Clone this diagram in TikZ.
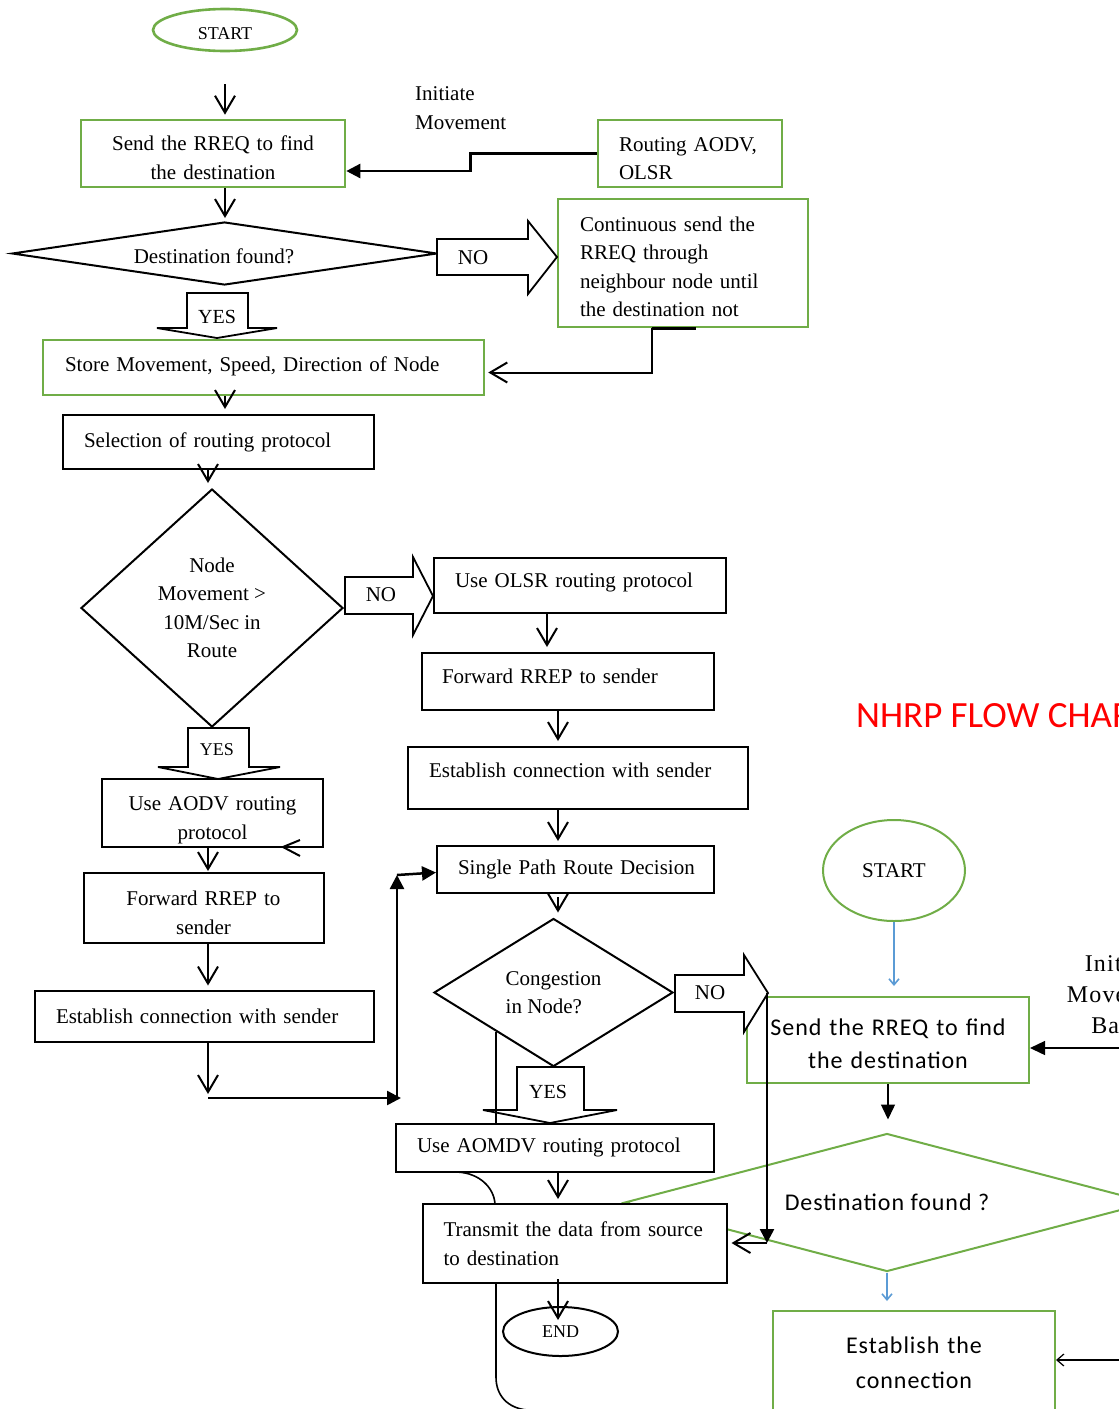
\documentclass[tikz,border=0pt]{standalone}
\usepackage{fontspec}
\setmainfont{Liberation Serif}
\newfontfamily\sansf[LetterSpace=4]{Carlito}
\newfontfamily\titlef{Carlito}
\newfontfamily\spserif[LetterSpace=5]{Liberation Serif}
\usetikzlibrary{shapes.geometric,arrows.meta}
\definecolor{grn}{HTML}{70AD47}
\definecolor{blu}{HTML}{5B9BD5}
\definecolor{nred}{HTML}{FF0000}
\begin{document}
\begin{tikzpicture}[x=1pt,y=-1pt,
  every node/.style={font=\fontsize{21}{28.5}\selectfont},
  gbox/.style={rectangle, draw=grn, line width=2.6pt, fill=white, inner ysep=0pt},
  bbox/.style={rectangle, draw=black, line width=2pt, fill=white, inner ysep=0pt},
  lbl/.style={inner sep=0pt},
  blk/.style={draw=black, line width=1.8pt, fill=white, line join=miter},
  oarr/.style={line width=2pt, -{Straight Barb[length=17pt,width=20pt]}},
  farr/.style={line width=2.5pt, -{Triangle[length=14pt,width=14pt]}},
  tarr/.style={line width=1.4pt, -{Triangle[length=15pt,width=14pt]}},
  harr/.style={line width=1.2pt, -{Straight Barb[length=7pt,width=12pt]}},
  barr/.style={draw=blu, line width=1.6pt, -{Straight Barb[length=6pt,width=10pt]}},
  sline/.style={line width=1.6pt},
  sanstxt/.style={font=\sansf\fontsize{24}{33}\selectfont},
]
\useasboundingbox (0,0) rectangle (1119,1409);
\clip (0,0) rectangle (1119,1409);

% ---------- right-hand chart (behind) ----------
\node[lbl, anchor=west, text=nred, font=\titlef\fontsize{37}{40}\selectfont] (title) at (856,716) {NHRP FLOW CHART};
\node[ellipse, draw=grn, line width=2pt, minimum width=142pt, minimum height=101pt, inner sep=0pt] (start2) at (894,870.5) {START};
\node[gbox, line width=2pt, minimum width=282pt, minimum height=86pt, inner xsep=4pt, text width=260pt, text height=25pt, align=center, sanstxt] (rreq2) at (888,1040) {Send the RREQ to find\\the destination};
\node[lbl, align=center, font=\spserif\fontsize{24}{31}\selectfont] (initm2) at (1123,995) {Initiate\\Movement\\Based};
\node[diamond, draw=grn, line width=2pt, minimum width=525pt, minimum height=138pt, inner sep=0pt, aspect=3.8, sanstxt] (dest2) at (887,1202.5) {Destination found ?};
\node[gbox, line width=2pt, minimum width=282pt, minimum height=104pt, inner xsep=4pt, text width=260pt, align=center, font=\sansf\fontsize{24}{35}\selectfont] (est3) at (914,1363) {Establish the\\connection};

% ---------- main chart ----------
\node[ellipse, draw=grn, line width=2.6pt, minimum width=144pt, minimum height=42pt, inner sep=0pt, text height=19pt, font=\fontsize{18}{20}\selectfont] (start1) at (225,30) {START};
\node[gbox, minimum width=264pt, minimum height=67pt, text width=240pt, text height=23.5pt, align=center] (rreq1) at (213,153.5) {Send the RREQ to find\\the destination};
\node[lbl, anchor=west, align=left] (initm) at (415,108) {Initiate\\Movement};
\node[gbox, minimum width=184pt, minimum height=67pt, inner xsep=21pt, text width=142pt, text height=24.5pt, align=left] (routing) at (690,153.5) {Routing AODV,\\OLSR};
\node[diamond, draw, line width=2pt, fill=white, minimum width=425pt, minimum height=63pt, inner sep=0pt] (dest1) at (224.5,253.5) {};
\node[lbl] (dest1t) at (214,256) {Destination found?};
\node[gbox, minimum width=250pt, minimum height=128pt, inner xsep=22pt, text width=206pt, text height=22.5pt, align=left] (cont) at (683,263) {Continuous send the\\RREQ through\\neighbour node until\\the destination not};
\node[gbox, minimum width=441pt, minimum height=55pt, inner xsep=22pt, text width=397pt, align=left, text depth=7pt] (store) at (263.5,367.5) {\mbox{Store Movement, Speed, Direction of Node}};
\node[bbox, minimum width=311pt, minimum height=54pt, inner xsep=21pt, text width=269pt, align=left] (select) at (218.5,442) {\mbox{Selection of routing protocol}};
\node[diamond, draw, line width=2pt, fill=white, minimum width=262pt, minimum height=238pt, inner sep=0pt, align=center] (node2) at (212,608) {Node\\Movement >\\10M/Sec in\\Route};
\node[bbox, minimum width=292pt, minimum height=55pt, inner xsep=21pt, text width=250pt, align=left, text depth=10pt] (olsr) at (580,585.5) {\mbox{Use OLSR routing protocol}};
\node[bbox, minimum width=292pt, minimum height=57pt, inner xsep=20pt, text width=252pt, align=left, text depth=10pt] (fwd2) at (568,681.5) {\mbox{Forward RREP to sender}};
\node[bbox, minimum width=340pt, minimum height=62pt, inner xsep=21pt, text width=298pt, align=left, text depth=15pt] (est2) at (578,778) {\mbox{Establish connection with sender}};
\node[bbox, minimum width=277pt, minimum height=47pt, inner xsep=21pt, text width=235pt, align=left] (single) at (575.5,869.5) {\mbox{Single Path Route Decision}};
\node[diamond, draw, line width=2pt, fill=white, minimum width=239pt, minimum height=148pt, inner sep=0pt, aspect=1.6, align=left] (cong) at (553.5,992.5) {Congestion\\in Node?};
\node[bbox, minimum width=318pt, minimum height=48pt, inner xsep=21pt, text width=276pt, align=left] (aomdv) at (555,1147.5) {\mbox{Use AOMDV routing protocol}};
\node[bbox, minimum width=304pt, minimum height=79pt, inner xsep=21pt, text width=262pt, align=left] (transmit) at (574.5,1243.5) {Transmit the data from source\\to destination};
\node[ellipse, draw, line width=2pt, fill=white, minimum width=115pt, minimum height=49pt, inner sep=0pt, font=\fontsize{18}{20}\selectfont] (endn) at (560.5,1331.5) {END};
\node[bbox, minimum width=221pt, minimum height=68pt, text width=200pt, text height=28pt, align=center] (aodv) at (212.5,813) {Use AODV routing\\protocol};
\node[bbox, minimum width=240pt, minimum height=70pt, text width=200pt, text height=24.5pt, align=center] (fwd1) at (203.5,908) {Forward RREP to\\sender};
\node[bbox, minimum width=339pt, minimum height=51pt, inner xsep=21pt, text width=297pt, align=left] (est1) at (204.5,1016) {\mbox{Establish connection with sender}};

% ---------- block arrows (YES / NO) ----------
\draw[blk] (437,239)--(528,239)--(528,221)--(557,257)--(528,294)--(528,275)--(437,275)--cycle;
\node[lbl] (no1) at (473,258) {NO};
\draw[blk] (187,293)--(248,293)--(248,328)--(277,328)--(217,338)--(157,328)--(187,328)--cycle;
\node[lbl, font=\fontsize{20}{24}\selectfont] (yes1) at (217,317) {YES};
\draw[blk] (345,577)--(413,577)--(413,557)--(433,596)--(413,635)--(413,614)--(345,614)--cycle;
\node[lbl] (no2) at (381,595) {NO};
\draw[blk] (188,728)--(249,728)--(249,767)--(280,767)--(218,779)--(158,767)--(188,767)--cycle;
\node[lbl, font=\fontsize{18}{22}\selectfont] (yes2) at (217,750) {YES};
\draw[blk] (675,975)--(744,975)--(744,955)--(768,993)--(744,1032)--(744,1012)--(675,1012)--cycle;
\node[lbl] (no3) at (710,993) {NO};
\draw[blk] (517,1067)--(584,1067)--(584,1110)--(617,1110)--(550,1123)--(483,1110)--(517,1110)--cycle;
\node[lbl, font=\fontsize{20}{24}\selectfont] (yes3) at (548,1092) {YES};

% ---------- helper coordinates ----------
\coordinate (X208) at (208,0);
\coordinate (X225) at (225,0);
\coordinate (X547) at (547,0);
\coordinate (X558) at (558,0);
\coordinate (X888) at (888,0);
\coordinate (j1) at (208,1098);
\coordinate (j2) at (401,1098);
\coordinate (j2b) at (397,1098);
\coordinate (j3) at (397,875);
\coordinate (k1) at (767,993);
\coordinate (k2) at (767,1243);
\coordinate (rin1) at (1125,1048);
\coordinate (rin2) at (1125,1360);

% ---------- connectors ----------
\draw[oarr] ([yshift=-32pt]start1.south -| X225) -- ([yshift=4pt]rreq1.north -| X225);
\draw[farr] (routing.west) -- ++(-126,0) |- ([yshift=-17.5pt]rreq1.east);
\draw[oarr] (rreq1.south -| X225) -- ([yshift=3pt]dest1.north -| X225);
\draw[oarr] ([xshift=-31pt]cont.south) |- ([yshift=-5pt,xshift=3pt]store.east);
\draw[line width=2.6pt] ([xshift=-31pt]cont.south) -- ([xshift=13pt]cont.south);
\draw[oarr] (store.south -| X225) -- ([yshift=5pt]select.north -| X225);
\draw[oarr] (select.south -| X208) -- ([yshift=5pt]node2.north -| X208);
\draw[oarr] (olsr.south -| X547) -- ([yshift=5pt]fwd2.north -| X547);
\draw[oarr] (fwd2.south -| X558) -- ([yshift=5pt]est2.north -| X558);
\draw[oarr] (est2.south -| X558) -- ([yshift=4pt]single.north -| X558);
\draw[oarr] ([yshift=-3pt]single.south -| X558) -- ([yshift=5pt]cong.north -| X558);
\draw[oarr] (aomdv.south -| X558) -- ([yshift=4pt]transmit.north -| X558);
\draw[oarr] ([yshift=5pt]transmit.south -| X558) -- ([yshift=-14pt]endn.north -| X558);
\draw[oarr] (aodv.south -| X208) -- ([yshift=1pt]fwd1.north -| X208);
\draw[oarr] (fwd1.south -| X208) -- ([yshift=4pt]est1.north -| X208);
\draw[oarr] (est1.south -| X208) -- ([yshift=4pt]j1);
\draw[farr] (j1) -- (j2);
\draw[farr] (j2b) -- (j3);
\draw[farr] (j3) -- ([yshift=-3pt]single.west);
\draw[farr] (k1) -- (k2);
\draw[oarr] (k2) -- ([xshift=4pt]transmit.east |- k2);
\draw[line width=2pt] (300,840) -- (283,847) -- (300,856);
\draw[sline] (496,1032) -- (496,1123);
\draw[sline] (457,1172) .. controls (480,1173) and (494,1188) .. (495,1204);
\draw[sline] (496,1283) -- (496,1377) .. controls (496,1396) and (508,1408) .. (527,1410);

% right-hand connectors
\draw[barr] (start2.south) -- ([yshift=10pt]rreq2.north -| start2.south);
\draw[tarr] (rin1) -- ([yshift=-8pt]rreq2.east);
\draw[tarr] (rreq2.south -| X888) -- ([yshift=13pt]dest2.north -| X888);
\draw[barr] (dest2.south) -- ([yshift=9pt]est3.north -| dest2.south);
\draw[harr] (rin2) -- ([yshift=3pt]est3.east);
\end{tikzpicture}
\end{document}
